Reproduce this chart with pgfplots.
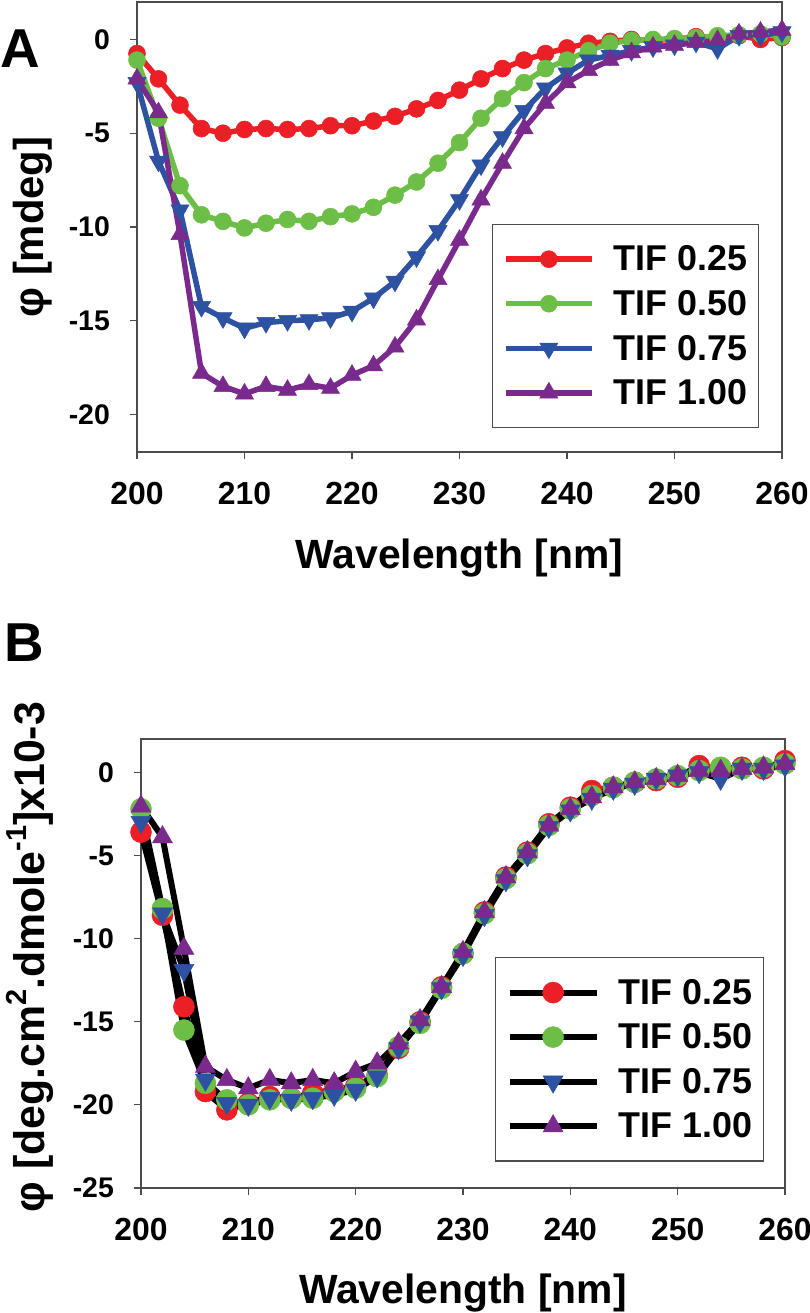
\documentclass[border=0pt]{standalone}
\usepackage{fontspec}
\setmainfont{Liberation Sans}
\usepackage{pgfplots}
\usepackage{pgfplotstable}
\pgfplotsset{compat=1.18}
\definecolor{cR}{RGB}{236,30,38}
\definecolor{cG}{RGB}{108,190,70}
\definecolor{cB}{RGB}{45,82,162}
\definecolor{cP}{RGB}{122,42,140}
\newcommand\fs[1]{\fontsize{#1}{#1}\selectfont\bfseries}
\newcommand\sups[1]{\raisebox{0.42em}{\fontsize{29}{29}\selectfont\bfseries #1}}

\pgfplotstableread[row sep=\\]{
x r g b p\\
200 -0.75 -1.1 -2.3 -2.1\\
202 -2.1 -4.2 -6.5 -3.9\\
204 -3.5 -7.8 -9.1 -10.4\\
206 -4.75 -9.35 -14.25 -17.8\\
208 -5.0 -9.7 -14.85 -18.5\\
210 -4.8 -10.05 -15.4 -18.9\\
212 -4.75 -9.8 -15.1 -18.5\\
214 -4.8 -9.6 -15.0 -18.7\\
216 -4.75 -9.7 -14.95 -18.4\\
218 -4.6 -9.45 -14.85 -18.6\\
220 -4.6 -9.3 -14.5 -17.9\\
222 -4.35 -8.95 -13.8 -17.4\\
224 -4.1 -8.3 -12.9 -16.4\\
226 -3.7 -7.6 -11.6 -14.95\\
228 -3.25 -6.6 -10.2 -12.8\\
230 -2.7 -5.5 -8.55 -10.7\\
232 -2.1 -4.2 -6.7 -8.55\\
234 -1.55 -3.15 -5.2 -6.6\\
236 -1.1 -2.3 -3.8 -4.75\\
238 -0.75 -1.55 -2.6 -3.4\\
240 -0.45 -1.1 -1.8 -2.3\\
242 -0.2 -0.6 -1.1 -1.65\\
244 -0.1 -0.2 -0.85 -1.1\\
246 0.0 -0.05 -0.6 -0.7\\
248 -0.05 0.0 -0.4 -0.4\\
250 0.0 0.05 -0.3 -0.3\\
252 0.15 0.1 -0.15 -0.15\\
254 0.1 0.2 -0.5 -0.05\\
256 0.2 0.25 0.2 0.3\\
258 0.0 0.3 0.2 0.4\\
260 0.1 0.15 0.4 0.5\\
}\dataA

\pgfplotstableread[row sep=\\]{
x r g b p\\
200 -3.6 -2.2 -3.0 -2.05\\
202 -8.6 -8.2 -8.5 -3.9\\
204 -14.1 -15.5 -11.9 -10.6\\
206 -19.2 -18.7 -18.5 -17.7\\
208 -20.3 -19.7 -19.9 -18.5\\
210 -19.9 -20.0 -20.0 -19.0\\
212 -19.5 -19.7 -19.6 -18.5\\
214 -19.6 -19.6 -19.7 -18.7\\
216 -19.3 -19.6 -19.6 -18.5\\
218 -19.1 -19.2 -19.4 -18.7\\
220 -18.9 -19.0 -19.1 -18.0\\
222 -18.2 -18.3 -18.3 -17.5\\
224 -16.6 -16.5 -16.6 -16.3\\
226 -15.0 -15.1 -15.0 -14.9\\
228 -12.9 -13.0 -13.0 -12.9\\
230 -10.9 -10.9 -11.0 -10.8\\
232 -8.4 -8.5 -8.6 -8.4\\
234 -6.3 -6.4 -6.5 -6.3\\
236 -4.8 -4.9 -5.0 -4.8\\
238 -3.1 -3.2 -3.3 -3.2\\
240 -2.1 -2.2 -2.3 -2.2\\
242 -1.1 -1.4 -1.6 -1.5\\
244 -0.9 -0.9 -1.0 -0.9\\
246 -0.6 -0.6 -0.7 -0.6\\
248 -0.5 -0.4 -0.4 -0.4\\
250 -0.3 -0.2 -0.2 -0.2\\
252 0.4 0.1 0.0 0.1\\
254 0.2 0.3 -0.4 0.1\\
256 0.3 0.2 0.2 0.2\\
258 0.2 0.3 0.2 0.3\\
260 0.7 0.5 0.4 0.5\\
}\dataB

\pgfplotsset{
  cdbase/.style={
    scale only axis, clip=false,
    xmin=200, xmax=260,
    xtick={200,210,...,260},
    xticklabels={200,210,220,230,240,250,260},
    tick align=outside, tick pos=left,
    major tick length=7bp,
    axis line style={line width=1.2bp, black!70},
    every tick/.style={line width=1.2bp, black!70},
    xticklabel style={font=\fs{32}, inner sep=0pt, anchor=north, yshift=-23bp},
    yticklabel style={font=\fs{28.5}, inner sep=0pt, anchor=east, xshift=-20bp},
    legend style={draw=black!70, line width=1.2bp, font=\fs{36},
      inner xsep=11bp, inner ysep=21.5bp, row sep=18bp,
      nodes={inner sep=0pt},
      /tikz/every odd column/.append style={column sep=19bp}},
    legend cell align=left,
  },
}

\begin{document}
\begin{tikzpicture}
\path[use as bounding box] (0,0) rectangle (810bp,1313bp);
\node[anchor=base west, inner sep=0pt, font=\fs{55}] at (0bp,1245bp) {A};
\node[anchor=base west, inner sep=0pt, font=\fs{55}] at (4bp,651bp) {B};

% Panel A
\begin{axis}[cdbase,
  at={(137bp,861bp)}, anchor=south west,
  width=645bp, height=450bp,
  ymin=-22, ymax=2,
  ytick={-20,-15,-10,-5,0},
  yticklabels={-20,-15,-10,-5,0},
  xlabel={Wavelength [nm]},
  xlabel style={at={(axis description cs:0.5,-0.236)}, anchor=center, font=\fs{41}},
  ylabel={φ [mdeg]},
  ylabel style={at={(axis description cs:-0.161,0.5)}, anchor=center, rotate=0, font=\fs{42}},
  legend style={at={(axis description cs:0.964,0.507)}, anchor=north east},
  legend image code/.code={\draw[mark repeat=2,mark phase=2,#1] plot coordinates {(0bp,0bp) (43bp,0bp) (86bp,0bp)};},
]
\addplot[color=cR, line width=5.5bp, mark=*, mark size=8.5bp, mark options={solid, fill=cR, draw=cR, line width=0.5bp}] table[x=x,y=r]{\dataA};
\addlegendentry{TIF 0.25\hspace{12bp}}
\addplot[color=cG, line width=5.5bp, mark=*, mark size=8.5bp, mark options={solid, fill=cG, draw=cG, line width=0.5bp}] table[x=x,y=g]{\dataA};
\addlegendentry{TIF 0.50\hspace{12bp}}
\addplot[color=cB, line width=5.5bp, mark=triangle*, mark size=10.5bp, mark options={solid, rotate=180, fill=cB, draw=cB, line width=0.5bp}] table[x=x,y=b]{\dataA};
\addlegendentry{TIF 0.75\hspace{12bp}}
\addplot[color=cP, line width=5.5bp, mark=triangle*, mark size=10.5bp, mark options={solid, fill=cP, draw=cP, line width=0.5bp}] table[x=x,y=p]{\dataA};
\addlegendentry{TIF 1.00\hspace{12bp}}
\end{axis}

% Panel B
\begin{axis}[cdbase,
  at={(141bp,125bp)}, anchor=south west,
  width=644bp, height=449bp,
  ymin=-25, ymax=2,
  ytick={-25,-20,-15,-10,-5,0},
  yticklabels={-25,-20,-15,-10,-5,0},
  xlabel={Wavelength [nm]},
  xlabel style={at={(axis description cs:0.5,-0.234)}, anchor=center, font=\fs{41}},
  ylabel={φ [deg.cm\sups{2}.dmole\sups{-1}]x10-3},
  ylabel style={at={(axis description cs:-0.172,0.514)}, anchor=center, rotate=0, font=\fs{43}},
  legend style={at={(axis description cs:0.967,0.514)}, anchor=north east},
  legend image code/.code={\draw[mark repeat=2,mark phase=2,#1] plot coordinates {(0bp,0bp) (43.5bp,0bp) (87bp,0bp)};},
]
\addplot[color=black, line width=6bp, mark=*, mark size=10.5bp, mark options={solid, fill=cR, draw=cR, line width=0.5bp}] table[x=x,y=r]{\dataB};
\addlegendentry{TIF 0.25\hspace{12bp}}
\addplot[color=black, line width=6bp, mark=*, mark size=10.5bp, mark options={solid, fill=cG, draw=cG, line width=0.5bp}] table[x=x,y=g]{\dataB};
\addlegendentry{TIF 0.50\hspace{12bp}}
\addplot[color=black, line width=6bp, mark=triangle*, mark size=11.5bp, mark options={solid, rotate=180, fill=cB, draw=cB, line width=0.5bp}] table[x=x,y=b]{\dataB};
\addlegendentry{TIF 0.75\hspace{12bp}}
\addplot[color=black, line width=6bp, mark=triangle*, mark size=11.5bp, mark options={solid, fill=cP, draw=cP, line width=0.5bp}] table[x=x,y=p]{\dataB};
\addlegendentry{TIF 1.00\hspace{12bp}}
\end{axis}
\end{tikzpicture}
\end{document}
